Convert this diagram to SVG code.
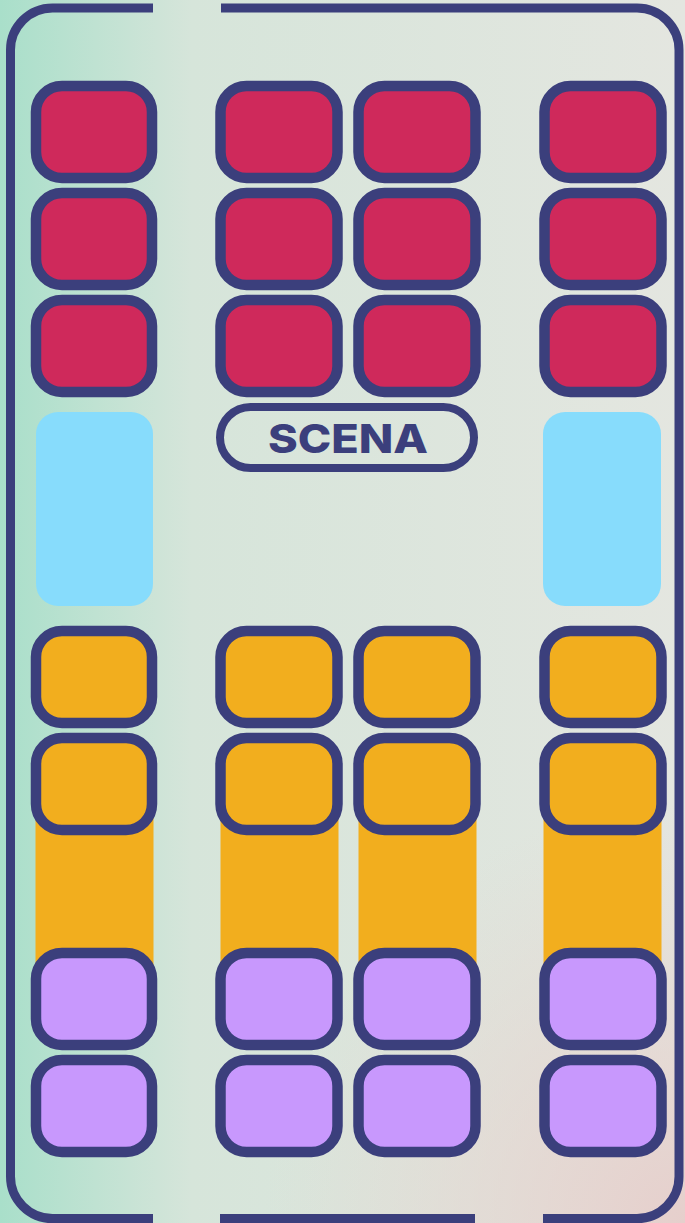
<svg xmlns="http://www.w3.org/2000/svg" width="685" height="1223" viewBox="0 0 685 1223">
<defs>
<linearGradient id="bg" x1="0" y1="0" x2="1" y2="0">
<stop offset="0" stop-color="#a9dfca"/>
<stop offset="0.28" stop-color="#d6e5da"/>
<stop offset="1" stop-color="#e4e6e0"/>
</linearGradient>
<radialGradient id="pink" cx="685" cy="1223" r="420" gradientUnits="userSpaceOnUse">
<stop offset="0" stop-color="#e6cfcc" stop-opacity="1"/>
<stop offset="1" stop-color="#e6d6d0" stop-opacity="0"/>
</radialGradient>
</defs>
<style>
.seat{stroke:#3b3f7c;stroke-width:10.5}
.red{fill:#cf295b}
.org{fill:#f2ae1e}
.pur{fill:#c898fd}
.blue{fill:#87dcfc}
.bar{fill:#f2ae1e}
.wall{fill:none;stroke:#3b3f7c;stroke-width:9}
.lbl{font-family:Inter,"Liberation Sans",sans-serif;font-weight:800;font-size:40px;fill:#3b3f7c}
</style>
<rect x="0" y="0" width="685" height="1223" fill="url(#bg)"/>
<rect x="0" y="0" width="685" height="1223" fill="url(#pink)"/>
<g id="walls">
<path class="wall" d="M153 8 H52.5 A42 42 0 0 0 10.5 50 V1176.5 A42 42 0 0 0 52.5 1218.5 H153"/>
<path class="wall" d="M220 1218.5 H475"/>
<path class="wall" d="M543 1218.5 H637 A42 42 0 0 0 679 1176.5 V50 A42 42 0 0 0 637 8 H221"/>
</g>
<g id="bars">
<rect class="bar" x="35.5" y="790" width="118" height="210"/>
<rect class="bar" x="220.5" y="790" width="118" height="210"/>
<rect class="bar" x="358.5" y="790" width="118" height="210"/>
<rect class="bar" x="543.5" y="790" width="118" height="210"/>
</g>
<g id="blue-left"><rect class="blue" x="36" y="412" width="117" height="194" rx="22"/></g>
<g id="blue-right"><rect class="blue" x="543" y="412" width="118" height="194" rx="22"/></g>
<g id="scena">
<rect x="220" y="407" width="254" height="61" rx="30.5" fill="none" stroke="#3b3f7c" stroke-width="8"/>
<text class="lbl" x="348" y="453" text-anchor="middle" textLength="160" lengthAdjust="spacingAndGlyphs">SCENA</text>
</g>
<g id="red-seats">
<rect class="seat red" x="36" y="86" width="116" height="92" rx="26"/>
<rect class="seat red" x="220.5" y="86" width="117" height="92" rx="26"/>
<rect class="seat red" x="358.5" y="86" width="117" height="92" rx="26"/>
<rect class="seat red" x="544.5" y="86" width="117" height="92" rx="26"/>
<rect class="seat red" x="36" y="193" width="116" height="92" rx="26"/>
<rect class="seat red" x="220.5" y="193" width="117" height="92" rx="26"/>
<rect class="seat red" x="358.5" y="193" width="117" height="92" rx="26"/>
<rect class="seat red" x="544.5" y="193" width="117" height="92" rx="26"/>
<rect class="seat red" x="36" y="300" width="116" height="92" rx="26"/>
<rect class="seat red" x="220.5" y="300" width="117" height="92" rx="26"/>
<rect class="seat red" x="358.5" y="300" width="117" height="92" rx="26"/>
<rect class="seat red" x="544.5" y="300" width="117" height="92" rx="26"/>
</g>
<g id="orange-seats">
<rect class="seat org" x="36" y="631" width="116" height="92" rx="26"/>
<rect class="seat org" x="220.5" y="631" width="117" height="92" rx="26"/>
<rect class="seat org" x="358.5" y="631" width="117" height="92" rx="26"/>
<rect class="seat org" x="544.5" y="631" width="117" height="92" rx="26"/>
<rect class="seat org" x="36" y="738" width="116" height="92" rx="26"/>
<rect class="seat org" x="220.5" y="738" width="117" height="92" rx="26"/>
<rect class="seat org" x="358.5" y="738" width="117" height="92" rx="26"/>
<rect class="seat org" x="544.5" y="738" width="117" height="92" rx="26"/>
</g>
<g id="purple-seats">
<rect class="seat pur" x="36" y="953" width="116" height="92" rx="26"/>
<rect class="seat pur" x="220.5" y="953" width="117" height="92" rx="26"/>
<rect class="seat pur" x="358.5" y="953" width="117" height="92" rx="26"/>
<rect class="seat pur" x="544.5" y="953" width="117" height="92" rx="26"/>
<rect class="seat pur" x="36" y="1060" width="116" height="92" rx="26"/>
<rect class="seat pur" x="220.5" y="1060" width="117" height="92" rx="26"/>
<rect class="seat pur" x="358.5" y="1060" width="117" height="92" rx="26"/>
<rect class="seat pur" x="544.5" y="1060" width="117" height="92" rx="26"/>
</g>
</svg>
